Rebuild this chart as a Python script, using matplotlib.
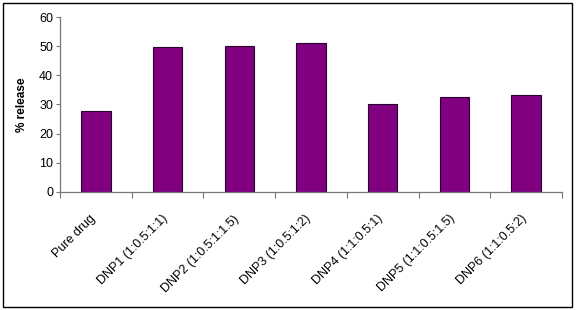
import matplotlib.pyplot as plt
import matplotlib.transforms as mtransforms
import numpy as np
from matplotlib.patches import Rectangle

plt.rcParams['font.family'] = ['Liberation Sans', 'DejaVu Sans']

categories = ['Pure drug', 'DNP1 (1:0.5:1:1)', 'DNP2 (1:0.5:1:1.5)', 'DNP3 (1:0.5:1:2)',
              'DNP4 (1:1:0.5:1)', 'DNP5 (1:1:0.5:1.5)', 'DNP6 (1:1:0.5:2)']
release = [27.6, 49.7, 50.0, 51.0, 30.1, 32.4, 33.1]
yticks = [0, 10, 20, 30, 40, 50, 60]

fig = plt.figure(figsize=(5.8, 3.1), dpi=100)
ax = fig.add_axes([0.1034, 0.381, 0.8656, 0.564])

x = np.arange(len(categories))
ax.bar(x, release, width=0.41, color='#800080', edgecolor='#2a0030', linewidth=0.8)

ax.set_xlim(-0.5, len(categories) - 0.5)
ax.set_ylim(0, 60)
ax.set_yticks(yticks)
ax.tick_params(axis='y', labelsize=9, length=3, width=0.8, color='#777777', pad=2)

# ticks between categories, labels at category centres
ax.set_xticks(np.arange(len(categories) + 1) - 0.5)
ax.set_xticklabels([])
ax.set_xticks(x, minor=True)
ax.set_xticklabels(categories, minor=True, rotation=45, ha='right',
                   rotation_mode='anchor', fontsize=9)
ax.tick_params(axis='x', which='major', length=4, width=0.8, color='#777777')
ax.tick_params(axis='x', which='minor', length=0, pad=15)
shift = mtransforms.ScaledTranslation(-6 / 100, 0, fig.dpi_scale_trans)
for lbl in ax.get_xticklabels(minor=True):
    lbl.set_transform(lbl.get_transform() + shift)

for s in ['top', 'right']:
    ax.spines[s].set_visible(False)
for s in ['left', 'bottom']:
    ax.spines[s].set_color('#777777')
    ax.spines[s].set_linewidth(0.9)

ax.set_ylabel('% release', fontsize=8.5, fontweight='bold', labelpad=8)

fig.patches.append(Rectangle((3 / 580, 3 / 310), 569 / 580, 304 / 310, transform=fig.transFigure,
                             fill=False, edgecolor='black', linewidth=1.0))

fig.savefig('out.png', dpi=100)
